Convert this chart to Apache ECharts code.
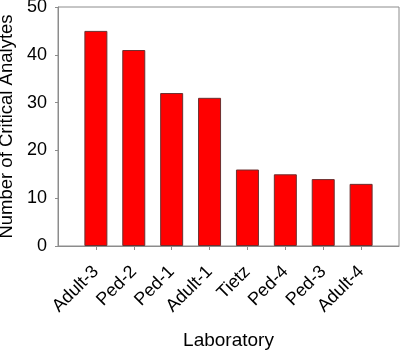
<!DOCTYPE html>
<html>
<head>
<meta charset="utf-8">
<script src="https://cdn.jsdelivr.net/npm/echarts@6/dist/echarts.min.js"></script>
<style>html,body{margin:0;padding:0;background:#fff}#c{width:400px;height:353px}</style>
</head>
<body>
<div id="c"></div>
<script>
const categories = ['Adult-3', 'Ped-2', 'Ped-1', 'Adult-1', 'Tietz', 'Ped-4', 'Ped-3', 'Adult-4'];
const values = [45, 41, 32, 31, 16, 15, 14, 13];
const yTicks = [0, 10, 20, 30, 40, 50];

const positions = categories.map((_, i) => i + 1);
const font = 'Liberation Sans, Arial, sans-serif';
const chart = echarts.init(document.getElementById('c'), null, {renderer: 'canvas'});
chart.setOption({
  animation: false,
  grid: {left: 58, right: 1, top: 7, bottom: 107, show: true, borderColor: '#8c8c8c', borderWidth: 1,
         backgroundColor: 'transparent', containLabel: false, outerBoundsMode: 'none'},
  xAxis: {
    type: 'value', min: 0, max: categories.length + 1, interval: 1,
    name: 'Laboratory', nameLocation: 'middle', nameGap: 85,
    nameTextStyle: {fontFamily: font, fontSize: 19, color: '#000'},
    axisLine: {show: true, lineStyle: {color: '#8c8c8c', width: 1}},
    axisTick: {show: true, length: 4, lineStyle: {color: '#8c8c8c'}, customValues: positions},
    axisLabel: {
      customValues: positions, rotate: 45, margin: 23,
      fontFamily: font, fontSize: 18, color: '#000',
      formatter: v => categories[Math.round(v) - 1] || ''
    },
    splitLine: {show: false}
  },
  yAxis: {
    type: 'value', min: yTicks[0], max: yTicks[yTicks.length - 1], interval: 10,
    name: 'Number of Critical Analytes', nameLocation: 'middle', nameGap: 35,
    nameTextStyle: {fontFamily: font, fontSize: 18.5, color: '#000'},
    axisLine: {show: true, lineStyle: {color: '#8c8c8c', width: 1}},
    axisTick: {show: true, length: 3, lineStyle: {color: '#8c8c8c'}},
    axisLabel: {fontFamily: font, fontSize: 18, color: '#000', margin: 11},
    splitLine: {show: false}
  },
  series: [{
    type: 'bar',
    data: values.map((v, i) => [positions[i], v]),
    barWidth: 23,
    itemStyle: {color: '#ff0000', borderColor: '#6b3030', borderWidth: 1}
  }]
});
</script>
</body>
</html>
